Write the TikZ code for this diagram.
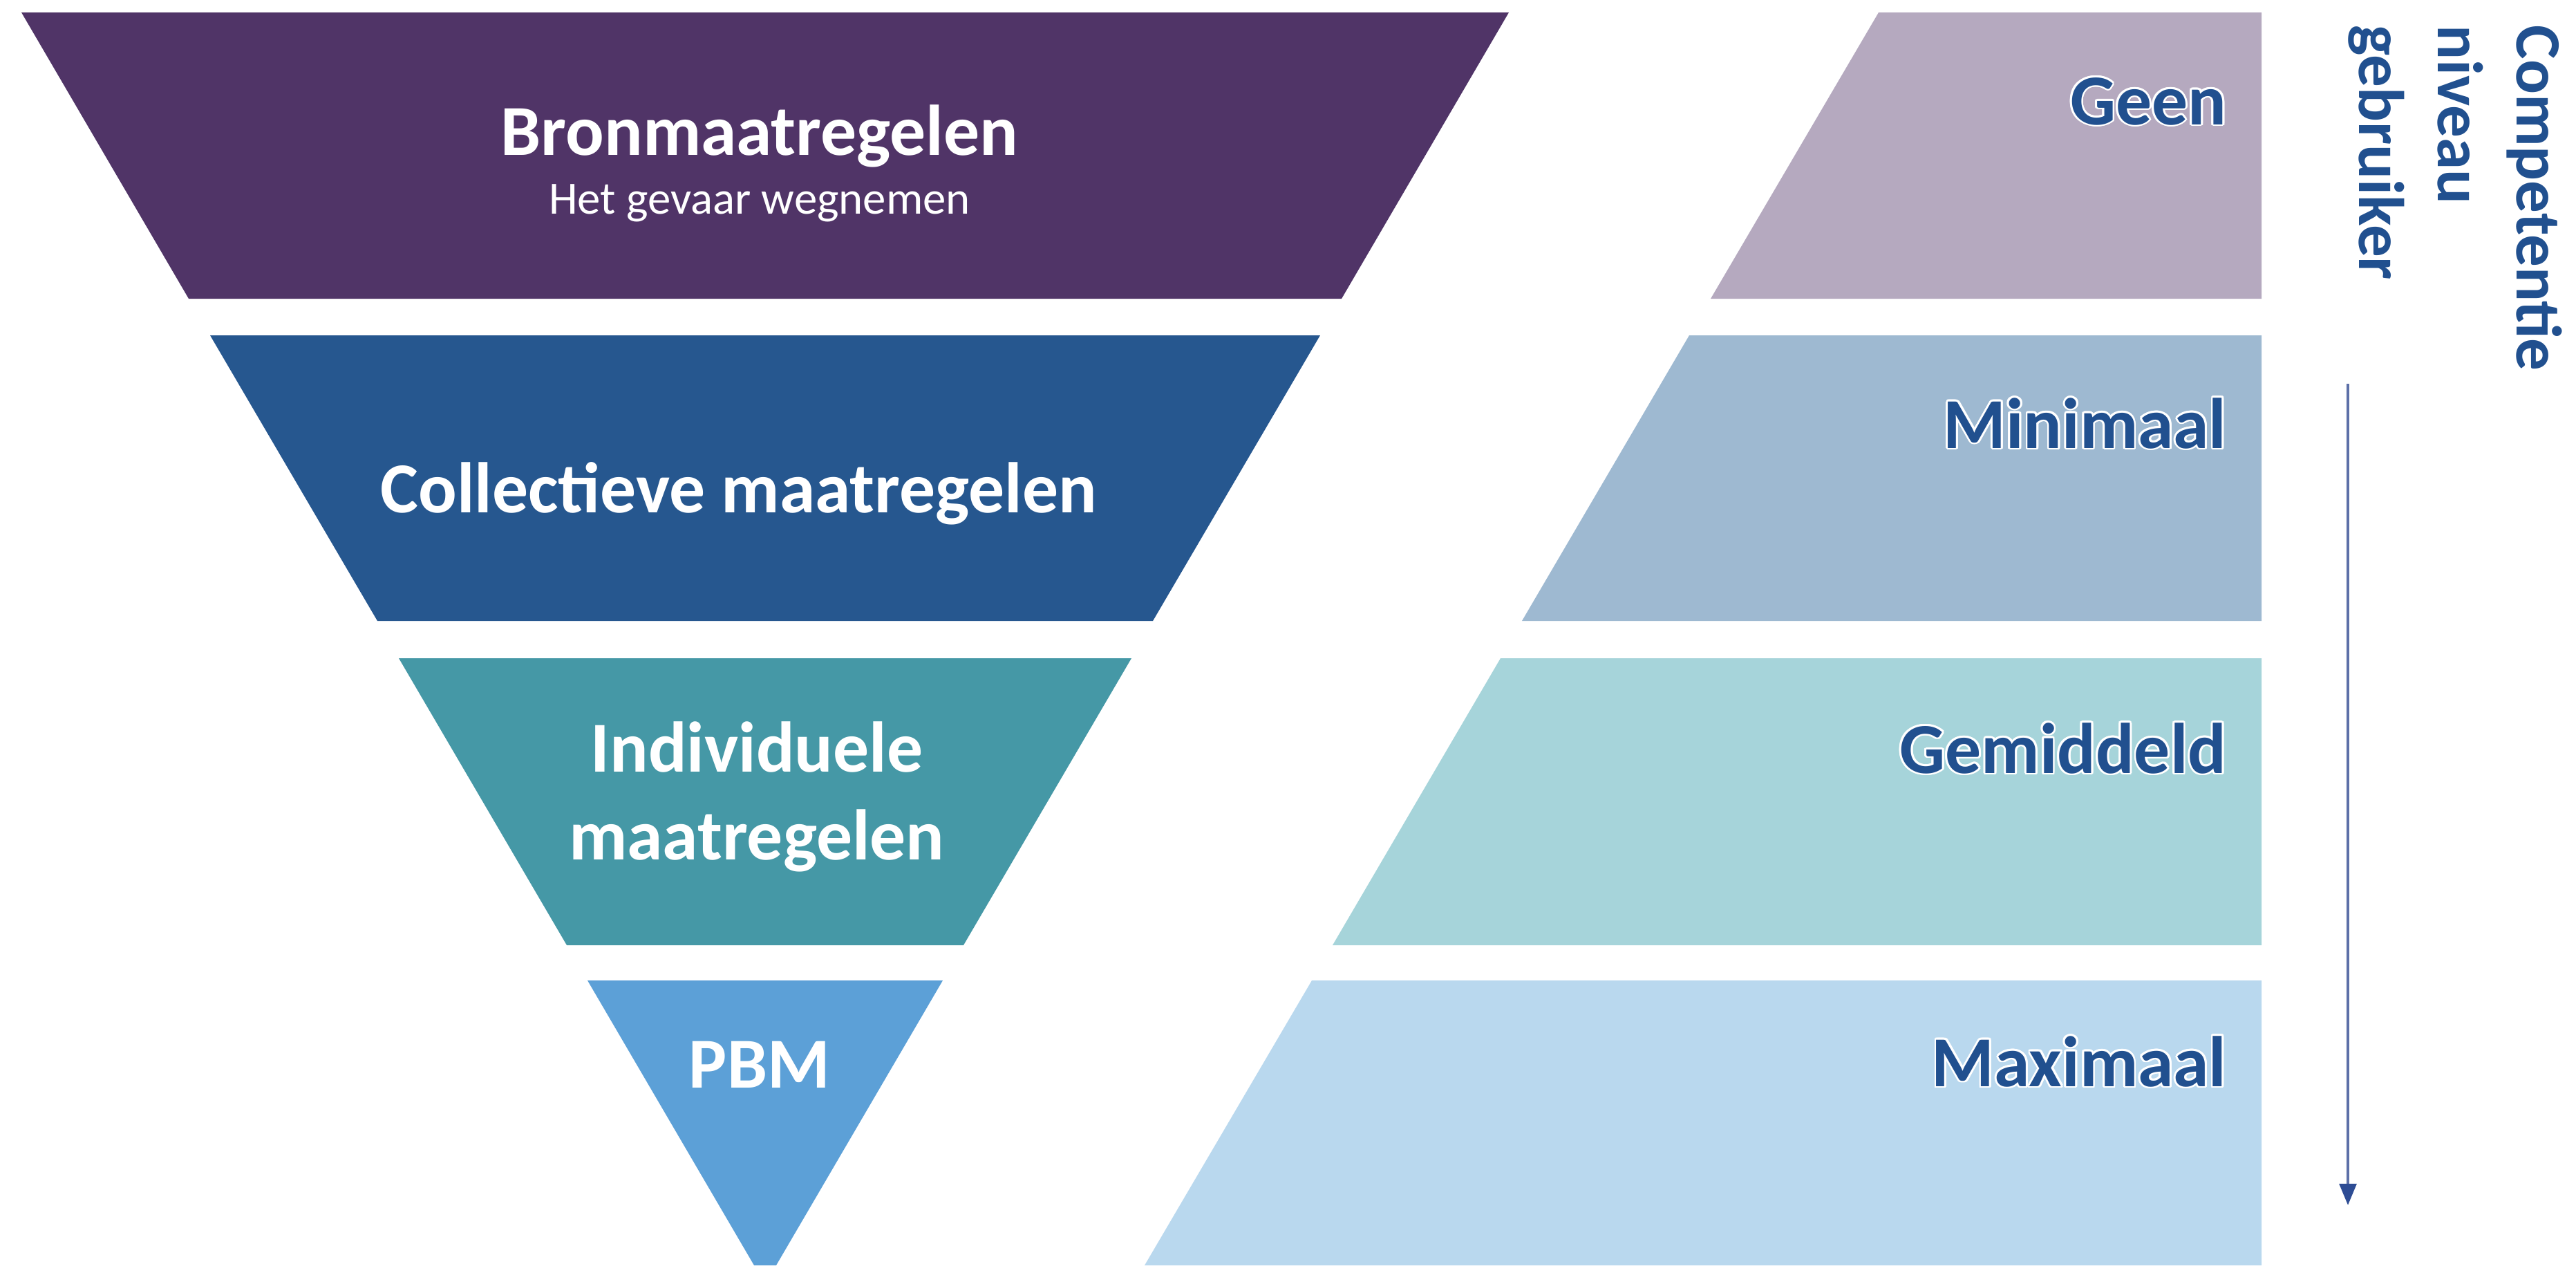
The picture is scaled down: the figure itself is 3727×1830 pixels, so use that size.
\documentclass[tikz,border=0pt]{standalone}
\usepackage{fontspec}
\setmainfont{Carlito}
\usepackage{contour}
\contourlength{0.8pt}
\usetikzlibrary{positioning, arrows.meta}

\definecolor{bronpurple}{HTML}{503467}
\definecolor{collblue}{HTML}{26578F}
\definecolor{indteal}{HTML}{4598A6}
\definecolor{pbmblue}{HTML}{5CA0D7}
\definecolor{geenbg}{HTML}{B5A9BF}
\definecolor{minbg}{HTML}{9EB9D1}
\definecolor{gembg}{HTML}{A6D4DA}
\definecolor{maxbg}{HTML}{B9D8EE}
\definecolor{niveaublue}{HTML}{21508F}
\definecolor{pijllijn}{HTML}{5D70A8}
\definecolor{pijlkop}{HTML}{2D4C94}

\begin{document}
\begin{tikzpicture}[x=0.01cm, y=-0.01cm,
        maatlabel/.style={text=white, font=\fontsize{29.5}{36}\selectfont\bfseries, inner sep=0pt, align=center, anchor=base},
        niveaulabel/.style={text=niveaublue, font=\fontsize{29.5}{36}\selectfont\bfseries, inner sep=0pt, anchor=base east}]
        \useasboundingbox (0,0) rectangle (3727,1830);
        \fill[white] (0,0) rectangle (3727,1830);

        %-----Maatregelen Bands-----

        % Bronmaatregelen Band
        \fill[bronpurple] (31,18) -- (2183,18) -- (1941,432) -- (273,432) -- cycle;

        % Collectieve Band
        \fill[collblue] (304,485) -- (1910,485) -- (1668,898) -- (546,898) -- cycle;

        % Individuele Band
        \fill[indteal] (577,952) -- (1637,952) -- (1394,1367) -- (820,1367) -- cycle;

        % PBM Band
        \fill[pbmblue] (850,1418) -- (1364,1418) -- (1123,1830) -- (1091,1830) -- cycle;

        %-----Niveau Bands-----

        % Geen Band
        \fill[geenbg] (2718,18) -- (3272,18) -- (3272,432) -- (2475,432) -- cycle;

        % Minimaal Band
        \fill[minbg] (2444,485) -- (3272,485) -- (3272,898) -- (2202,898) -- cycle;

        % Gemiddeld Band
        \fill[gembg] (2171,952) -- (3272,952) -- (3272,1367) -- (1928,1367) -- cycle;

        % Maximaal Band
        \fill[maxbg] (1898,1418) -- (3272,1418) -- (3272,1830) -- (1656,1830) -- cycle;

        %-----Labels-----

        % Maatregelen Labels
        \node[maatlabel] (bron) at (1099,224) {Bronmaatregelen};
        \node[below=0.85cm of bron.base, anchor=base, text=white, font=\fontsize{19}{23}\selectfont, inner sep=0pt] (gevaar) {Het gevaar wegnemen};
        \node[maatlabel] (collectief) at (1069,741) {Collectieve maatregelen};
        \node[maatlabel] (individueel) at (1095,1243) {Individuele\\maatregelen};
        \node[maatlabel] (pbm) at (1099,1573) {PBM};

        % Niveau Labels
        \node[niveaulabel] (geen) at (3222,180) {\contour{white}{Geen}};
        \node[niveaulabel] (minimaal) at (3222,648) {\contour{white}{Minimaal}};
        \node[niveaulabel] (gemiddeld) at (3222,1118) {\contour{white}{Gemiddeld}};
        \node[niveaulabel] (maximaal) at (3222,1571) {\contour{white}{Maximaal}};

        % Competentie Label
        \node[rotate=-90, anchor=north west, align=left, inner sep=0pt, text=niveaublue, font=\fontsize{26.5}{32.5}\selectfont\bfseries] (competentie) at (3708,36) {Competentie\\niveau\\gebruiker};

        %-----Arrow-----
        \coordinate (pijlbegin) at (3397,555);
        \coordinate (pijleind) at (3397,1743);
        \draw[pijllijn, line width=1.1pt, -{Triangle[length=8.8pt, width=7pt, color=pijlkop]}] (pijlbegin) -- (pijleind);
\end{tikzpicture}
\end{document}
